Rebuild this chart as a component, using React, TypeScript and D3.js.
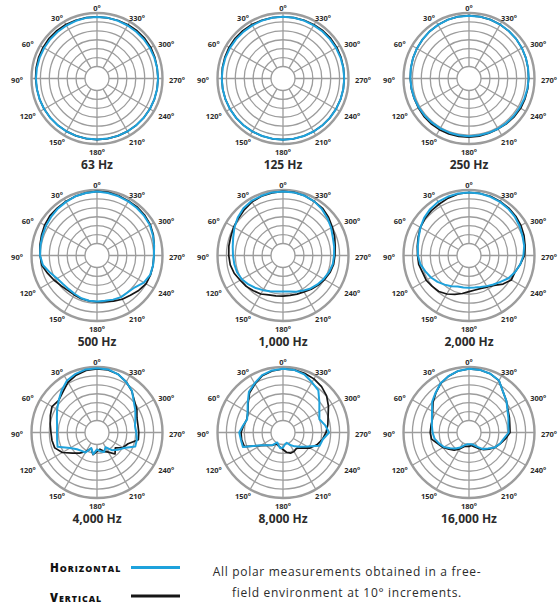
import React from "react";
import * as d3 from "d3";

// Measurement angles (degrees, counter-clockwise from on-axis at the top)
const ANGLES = d3.range(0, 360, 10);
const TICK_ANGLES = d3.range(0, 360, 30);
const RING_LEVELS = d3.range(-30, 1, 5); // dB grid rings
const FREQ_LABELS = ["63 Hz", "125 Hz", "250 Hz", "500 Hz", "1,000 Hz", "2,000 Hz", "4,000 Hz", "8,000 Hz", "16,000 Hz"];

// Relative level in dB at each 10° step, horizontal plane
const H_63 = [-2.2, -2.2, -2.3, -2.4, -2.5, -2.5, -2.5, -2.5, -2.5, -2.5, -2.5, -2.5, -2.5, -2.5, -2.5, -2.5, -2.5, -2.5, -2.5, -2.5, -2.5, -2.5, -2.5, -2.5, -2.5, -2.5, -2.5, -2.5, -2.5, -2.5, -2.5, -2.5, -2.5, -2.4, -2.3, -2.2];
const H_125 = [-2.1, -2.1, -2.2, -2.3, -2.4, -2.4, -2.4, -2.4, -2.4, -2.4, -2.4, -2.4, -2.4, -2.4, -2.4, -2.4, -2.4, -2.4, -2.4, -2.4, -2.4, -2.4, -2.4, -2.4, -2.4, -2.4, -2.4, -2.4, -2.4, -2.4, -2.4, -2.4, -2.3, -2.3, -2.2, -2.1];
const H_250 = [-1.5, -1.5, -1.7, -2.0, -2.3, -2.7, -3.0, -3.3, -3.6, -3.8, -4.0, -4.1, -4.2, -4.3, -4.4, -4.4, -4.4, -4.4, -4.4, -4.4, -4.3, -4.2, -4.1, -4.0, -3.9, -3.7, -3.5, -3.3, -3.1, -2.8, -2.5, -2.2, -2.0, -1.8, -1.6, -1.5];
const H_500 = [-0.8, -1.1, -1.4, -2.0, -2.5, -3.1, -3.6, -4.2, -4.5, -4.8, -5.9, -8.7, -10.9, -11.8, -12.1, -11.8, -11.2, -11.0, -10.9, -10.9, -10.4, -9.8, -9.8, -9.0, -6.4, -5.0, -4.8, -4.8, -4.2, -3.4, -2.5, -2.2, -2.0, -1.7, -1.4, -1.1];
const H_1000 = [-0.8, -0.8, -1.1, -1.4, -2.2, -3.6, -5.3, -7.0, -8.1, -8.7, -9.0, -9.3, -10.1, -11.5, -12.9, -14.3, -15.4, -16.3, -16.5, -16.3, -15.1, -14.0, -12.6, -11.5, -10.4, -9.3, -8.4, -8.1, -7.6, -7.0, -5.6, -4.2, -2.8, -1.7, -1.1, -0.8];
const H_2000 = [-1.4, -1.4, -1.7, -2.0, -2.8, -3.9, -5.3, -6.7, -7.6, -8.1, -9.0, -10.7, -12.1, -13.7, -15.4, -16.8, -18.2, -18.5, -18.6, -18.5, -17.9, -16.9, -15.5, -13.7, -11.2, -9.3, -7.6, -6.2, -5.3, -4.8, -3.9, -3.1, -2.5, -2.0, -1.7, -1.4];
const H_4000 = [-0.7, -0.8, -1.7, -3.1, -5.9, -8.7, -10.9, -12.8, -14.0, -14.3, -14.0, -13.2, -19.3, -22.1, -23.3, -23.8, -27.4, -24.4, -27.2, -26.1, -25.1, -27.2, -23.8, -21.6, -19.3, -13.9, -14.0, -14.7, -15.1, -13.8, -11.9, -9.8, -6.2, -4.0, -2.0, -0.8];
const H_8000 = [-1.0, -1.4, -2.5, -4.9, -7.0, -10.9, -13.8, -15.3, -14.0, -12.2, -12.8, -12.8, -22.5, -25.7, -27.5, -30.3, -29.2, -27.8, -28.3, -30.0, -30.6, -28.6, -26.6, -24.4, -21.0, -14.9, -14.1, -10.9, -12.8, -15.0, -13.2, -10.1, -5.9, -4.2, -2.0, -1.1];
const H_16000 = [-1.0, -1.7, -3.1, -4.8, -7.6, -9.8, -12.8, -14.6, -15.6, -16.3, -17.1, -18.8, -20.5, -23.0, -25.0, -27.0, -29.0, -30.0, -30.2, -30.0, -29.4, -27.4, -24.6, -22.7, -20.0, -18.3, -16.9, -14.5, -14.3, -13.2, -11.8, -9.3, -7.0, -3.1, -1.7, -1.1];

// Relative level in dB at each 10° step, vertical plane
const V_63 = [-2.2, -2.1, -2.0, -1.8, -1.7, -1.7, -1.8, -1.9, -2.1, -2.3, -2.5, -2.5, -2.5, -2.5, -2.5, -2.5, -2.5, -2.5, -2.5, -2.5, -2.5, -2.5, -2.5, -2.5, -2.5, -2.5, -2.5, -2.5, -2.5, -2.2, -1.9, -1.8, -1.8, -1.9, -2.1, -2.2];
const V_125 = [-2.1, -2.1, -2.0, -1.8, -1.7, -1.7, -1.8, -2.0, -2.2, -2.4, -2.4, -2.4, -2.4, -2.4, -2.4, -2.4, -2.4, -2.4, -2.4, -2.4, -2.4, -2.4, -2.4, -2.4, -2.4, -2.4, -2.4, -2.4, -2.3, -2.1, -1.9, -1.8, -1.8, -1.9, -2.0, -2.1];
const V_250 = [-1.5, -1.5, -1.7, -2.0, -2.3, -2.7, -3.0, -3.3, -3.6, -3.8, -3.9, -4.0, -3.9, -3.7, -3.6, -3.6, -3.7, -3.7, -3.8, -3.9, -4.1, -4.1, -3.8, -3.5, -3.3, -3.3, -3.3, -3.3, -3.1, -2.8, -2.5, -2.2, -2.0, -1.8, -1.6, -1.5];
const V_500 = [-0.8, -1.1, -1.4, -1.7, -2.0, -2.2, -2.8, -3.6, -4.2, -4.8, -5.3, -7.3, -9.0, -10.4, -11.2, -11.2, -10.9, -10.9, -10.7, -10.4, -9.5, -8.4, -7.6, -6.2, -5.0, -4.8, -4.8, -4.8, -4.2, -3.1, -2.2, -1.7, -1.4, -1.4, -1.1, -0.8];
const V_1000 = [-0.8, -1.1, -1.4, -2.0, -3.1, -4.2, -4.8, -5.6, -5.9, -6.3, -6.7, -7.6, -9.0, -9.8, -10.9, -11.8, -13.2, -13.7, -14.0, -14.0, -13.7, -13.2, -12.1, -10.9, -9.8, -8.7, -7.9, -7.6, -7.0, -5.9, -4.8, -3.4, -2.2, -1.7, -1.1, -0.8];
const V_2000 = [-1.4, -1.7, -2.5, -3.4, -3.9, -4.5, -5.3, -6.4, -7.3, -7.9, -8.1, -9.0, -9.0, -9.8, -10.4, -11.8, -13.5, -15.1, -16.5, -17.1, -17.1, -16.3, -14.9, -11.8, -9.3, -9.3, -7.6, -5.6, -4.8, -3.9, -3.1, -2.5, -2.0, -1.7, -1.4, -1.4];
const V_4000 = [-1.1, -1.4, -2.5, -4.2, -7.0, -8.7, -7.6, -8.9, -10.1, -10.9, -11.1, -11.5, -14.3, -18.8, -21.6, -24.4, -27.2, -24.1, -26.1, -27.2, -25.5, -24.0, -21.0, -23.3, -19.9, -18.2, -13.2, -13.3, -13.4, -12.9, -10.9, -9.3, -6.4, -3.9, -2.0, -1.1];
const V_8000 = [-1.1, -1.7, -2.8, -5.3, -7.6, -11.2, -14.0, -15.1, -14.3, -13.2, -13.2, -13.7, -22.1, -25.5, -27.2, -29.4, -28.9, -28.3, -27.2, -25.5, -24.4, -24.4, -25.0, -23.3, -19.3, -16.5, -14.3, -12.6, -11.2, -9.8, -7.3, -4.8, -3.1, -2.0, -1.4, -1.1];
const V_16000 = [-1.1, -1.7, -3.1, -5.0, -7.8, -10.4, -13.2, -14.9, -15.1, -15.0, -15.4, -18.2, -19.9, -22.1, -23.8, -26.1, -28.3, -28.9, -28.9, -29.4, -28.3, -26.6, -24.1, -22.1, -19.9, -18.2, -16.0, -13.7, -13.5, -12.6, -11.5, -9.3, -7.0, -3.1, -1.7, -1.1];

const HORIZONTAL = [H_63, H_125, H_250, H_500, H_1000, H_2000, H_4000, H_8000, H_16000];
const VERTICAL = [V_63, V_125, V_250, V_500, V_1000, V_2000, V_4000, V_8000, V_16000];

const NOTE_LINES = ["All polar measurements obtained in a free-", "field environment at 10° increments."];

const W = 558;
const H = 606;
const R_IN = 12;
const R_OUT = 65.5;
const COL_X = [97, 283, 469];
const ROW_Y = [78.5, 255.5, 432.5];

const BLUE = "#1ea2dc";
const BLACK = "#161616";
const GRID = "#9c9c9c";
const TEXT = "#2b2b2b";

const rScale = d3.scaleLinear().domain([-30, 0]).range([R_IN, R_OUT]);
const toRad = (deg: number) => (deg * Math.PI) / 180;

// d3.lineRadial measures angles clockwise; the plot runs counter-clockwise
const radialLine = d3
  .lineRadial<number>()
  .angle((_d, i) => -toRad(ANGLES[i]))
  .radius((d) => rScale(d))
  .curve(d3.curveLinearClosed);

function PolarPlot({ cx, cy, title, hor, ver }: { cx: number; cy: number; title: string; hor: number[]; ver: number[] }) {
  return (
    <g transform={`translate(${cx},${cy})`}>
      {RING_LEVELS.map((lv) => (
        <circle
          key={lv}
          r={rScale(lv)}
          fill="none"
          stroke={GRID}
          strokeWidth={lv === 0 ? 2.4 : 1.3}
        />
      ))}
      {TICK_ANGLES.map((a) => {
        const s = -Math.sin(toRad(a));
        const c = -Math.cos(toRad(a));
        return (
          <line
            key={a}
            x1={s * R_IN}
            y1={c * R_IN}
            x2={s * R_OUT}
            y2={c * R_OUT}
            stroke={GRID}
            strokeWidth={1.3}
          />
        );
      })}
      <path d={radialLine(ver) ?? ""} fill="none" stroke={BLACK} strokeWidth={1.7} strokeLinejoin="round" />
      <path d={radialLine(hor) ?? ""} fill="none" stroke={BLUE} strokeWidth={2} strokeLinejoin="round" />
      {TICK_ANGLES.map((a) => {
        const x = -Math.sin(toRad(a)) * 80;
        const y = -Math.cos(toRad(a)) * 72 + 1.5;
        return (
          <text
            key={a}
            x={x}
            y={y}
            textAnchor="middle"
            dominantBaseline="central"
            fontFamily="'Open Sans', sans-serif"
            fontWeight={700}
            fontSize={7.5}
            fill={TEXT}
          >
            {`${a}°`}
          </text>
        );
      })}
      <text
        x={0}
        y={90}
        textAnchor="middle"
        fontFamily="'Open Sans', sans-serif"
        fontWeight={700}
        fontSize={12}
        fill={TEXT}
      >
        {title}
      </text>
    </g>
  );
}

function SmallCaps({ x, y, text }: { x: number; y: number; text: string }) {
  return (
    <text x={x} y={y} fontFamily="'Open Sans', sans-serif" fontWeight={800} fill="#111" letterSpacing={1}>
      <tspan fontSize={11.5}>{text[0]}</tspan>
      <tspan fontSize={8.8}>{text.slice(1).toUpperCase()}</tspan>
    </text>
  );
}

export default function App() {
  return (
    <svg
      width={W}
      height={H}
      viewBox={`0 0 ${W} ${H}`}
      style={{ position: "absolute", left: 0, top: 0, display: "block", background: "#fff" }}
    >
      <rect width={W} height={H} fill="#fff" />
      {FREQ_LABELS.map((label, i) => (
        <PolarPlot
          key={label}
          cx={COL_X[i % 3]}
          cy={ROW_Y[Math.floor(i / 3)]}
          title={label}
          hor={HORIZONTAL[i]}
          ver={VERTICAL[i]}
        />
      ))}
      <SmallCaps x={50} y={572} text="Horizontal" />
      <line x1={131} x2={180} y1={567.5} y2={567.5} stroke={BLUE} strokeWidth={3} />
      <SmallCaps x={50} y={601.5} text="Vertical" />
      <line x1={131} x2={180} y1={596} y2={596} stroke={BLACK} strokeWidth={3} />
      {NOTE_LINES.map((t, i) => (
        <text
          key={i}
          x={347}
          y={575.5 + i * 21}
          textAnchor="middle"
          fontFamily="'Open Sans', sans-serif"
          fontSize={12}
          letterSpacing={0.7}
          fill={TEXT}
        >
          {t}
        </text>
      ))}
    </svg>
  );
}
